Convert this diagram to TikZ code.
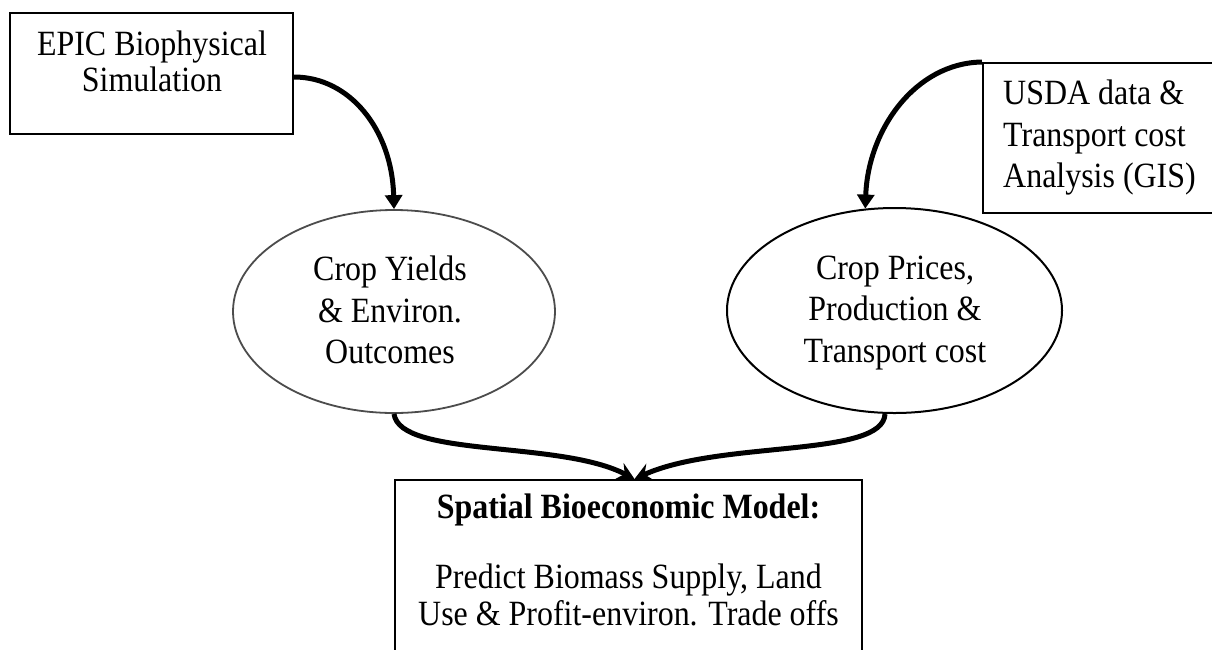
\documentclass[tikz,border=0pt]{standalone}
\usepackage{fontspec}
\setmainfont{Liberation Serif}[FakeStretch=0.9]
\usetikzlibrary{shapes.geometric,arrows.meta}
\begin{document}
\begin{tikzpicture}[x=1pt,y=-1pt,
  every node/.style={font=\fontsize{35.5}{41.5}\selectfont, inner sep=0pt},
  boxnode/.style={draw, line width=2pt, rectangle},
  ovalnode/.style={ellipse, line width=2pt, inner sep=0pt, align=center},
  conn/.style={line width=5pt},
  tipA/.style={-{Triangle[length=14pt,width=17pt]}},
  tipB/.style={-{Stealth[length=17pt,width=18pt,inset=6pt]}}
]
\fill[white] (0,0) rectangle (1212,649);
\useasboundingbox (0,0) rectangle (1212,649);
\clip (0,0) rectangle (1212,649);

% boxes
\node[boxnode, minimum width=283, minimum height=121] (epic) at (151.5,73.5) {};
\node[align=center, font=\fontsize{35.5}{36}\selectfont] (epict) at (152,61) {EPIC Biophysical\\Simulation};

\node[boxnode, minimum width=247, minimum height=150] (usda) at (1106.5,138) {};
\node[align=left, anchor=west] (usdat) at (1003,138) {USDA data \&\\Transport cost\\Analysis (GIS)};

\node[boxnode, minimum width=467, minimum height=200] (model) at (628.5,580) {};
\node[align=center, font=\fontsize{35.5}{37}\selectfont] (modelt) at (628.5,559.5)
  {\textbf{Spatial Bioeconomic Model:}\\[33pt]Predict Biomass Supply, Land\\Use \& Profit-environ. Trade offs};

% ellipses
\node[ovalnode, draw=black!70, line width=1.8pt, minimum width=322, minimum height=203] (crop) at (394,311.5) {};
\node[align=center] (cropt) at (390,310) {Crop Yields\\\& Environ.\\Outcomes};
\node[ovalnode, draw, minimum width=335, minimum height=205] (price) at (894.5,310.5) {};
\node[align=center] (pricet) at (895,313) {Crop Prices,\\Production \&\\Transport cost};

% connectors
\draw[conn, tipA] ([yshift=-3.5pt]epic.east) .. controls (350,77) and (392,130) .. (crop.north);
\draw[conn, tipA] (usda.north west) .. controls (915,63) and (868,130) .. (price.106);
\draw[conn, tipB] (crop.south) .. controls (400,458) and (560,440) .. ([xshift=6pt]model.north);
\draw[conn, tipB] ([xshift=-9.5pt]price.south) .. controls (883,458) and (720,440) .. ([xshift=6pt]model.north);
\end{tikzpicture}
\end{document}
